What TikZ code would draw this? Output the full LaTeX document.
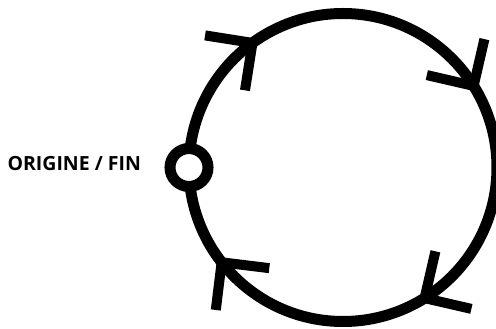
\documentclass[tikz,border=0pt]{standalone}
\usepackage{fontspec}
\setsansfont{Open Sans}
\usetikzlibrary{positioning}

\begin{document}
\begin{tikzpicture}[x=1pt,y=1pt,
  ring/.style={line width=11pt},
  barb/.style={line width=10pt,line cap=butt,line join=miter},
  endpoint/.style={circle,draw,line width=11pt,fill=white,inner sep=0pt,minimum size=38pt},
  lbl/.style={font=\sffamily\bfseries\fontsize{19.5}{22}\selectfont}]
  \useasboundingbox (0,0) rectangle (496,329);
  \coordinate (c) at (343,161.5);
  \draw[ring] (c) circle[radius=154];
  % arrowheads, clockwise
  \foreach \a in {126,32,302,218} {
    \path (c) ++(\a:154) coordinate (tip);
    \draw[barb] ([shift={(\a+45:48)}]tip) -- (tip) -- ([shift={(\a+135:48)}]tip);
  }
  \node[endpoint] (origin) at (189,161.5) {};
  \node[lbl,left=20pt of origin,yshift=4pt] (name) {ORIGINE / FIN};
\end{tikzpicture}
\end{document}
